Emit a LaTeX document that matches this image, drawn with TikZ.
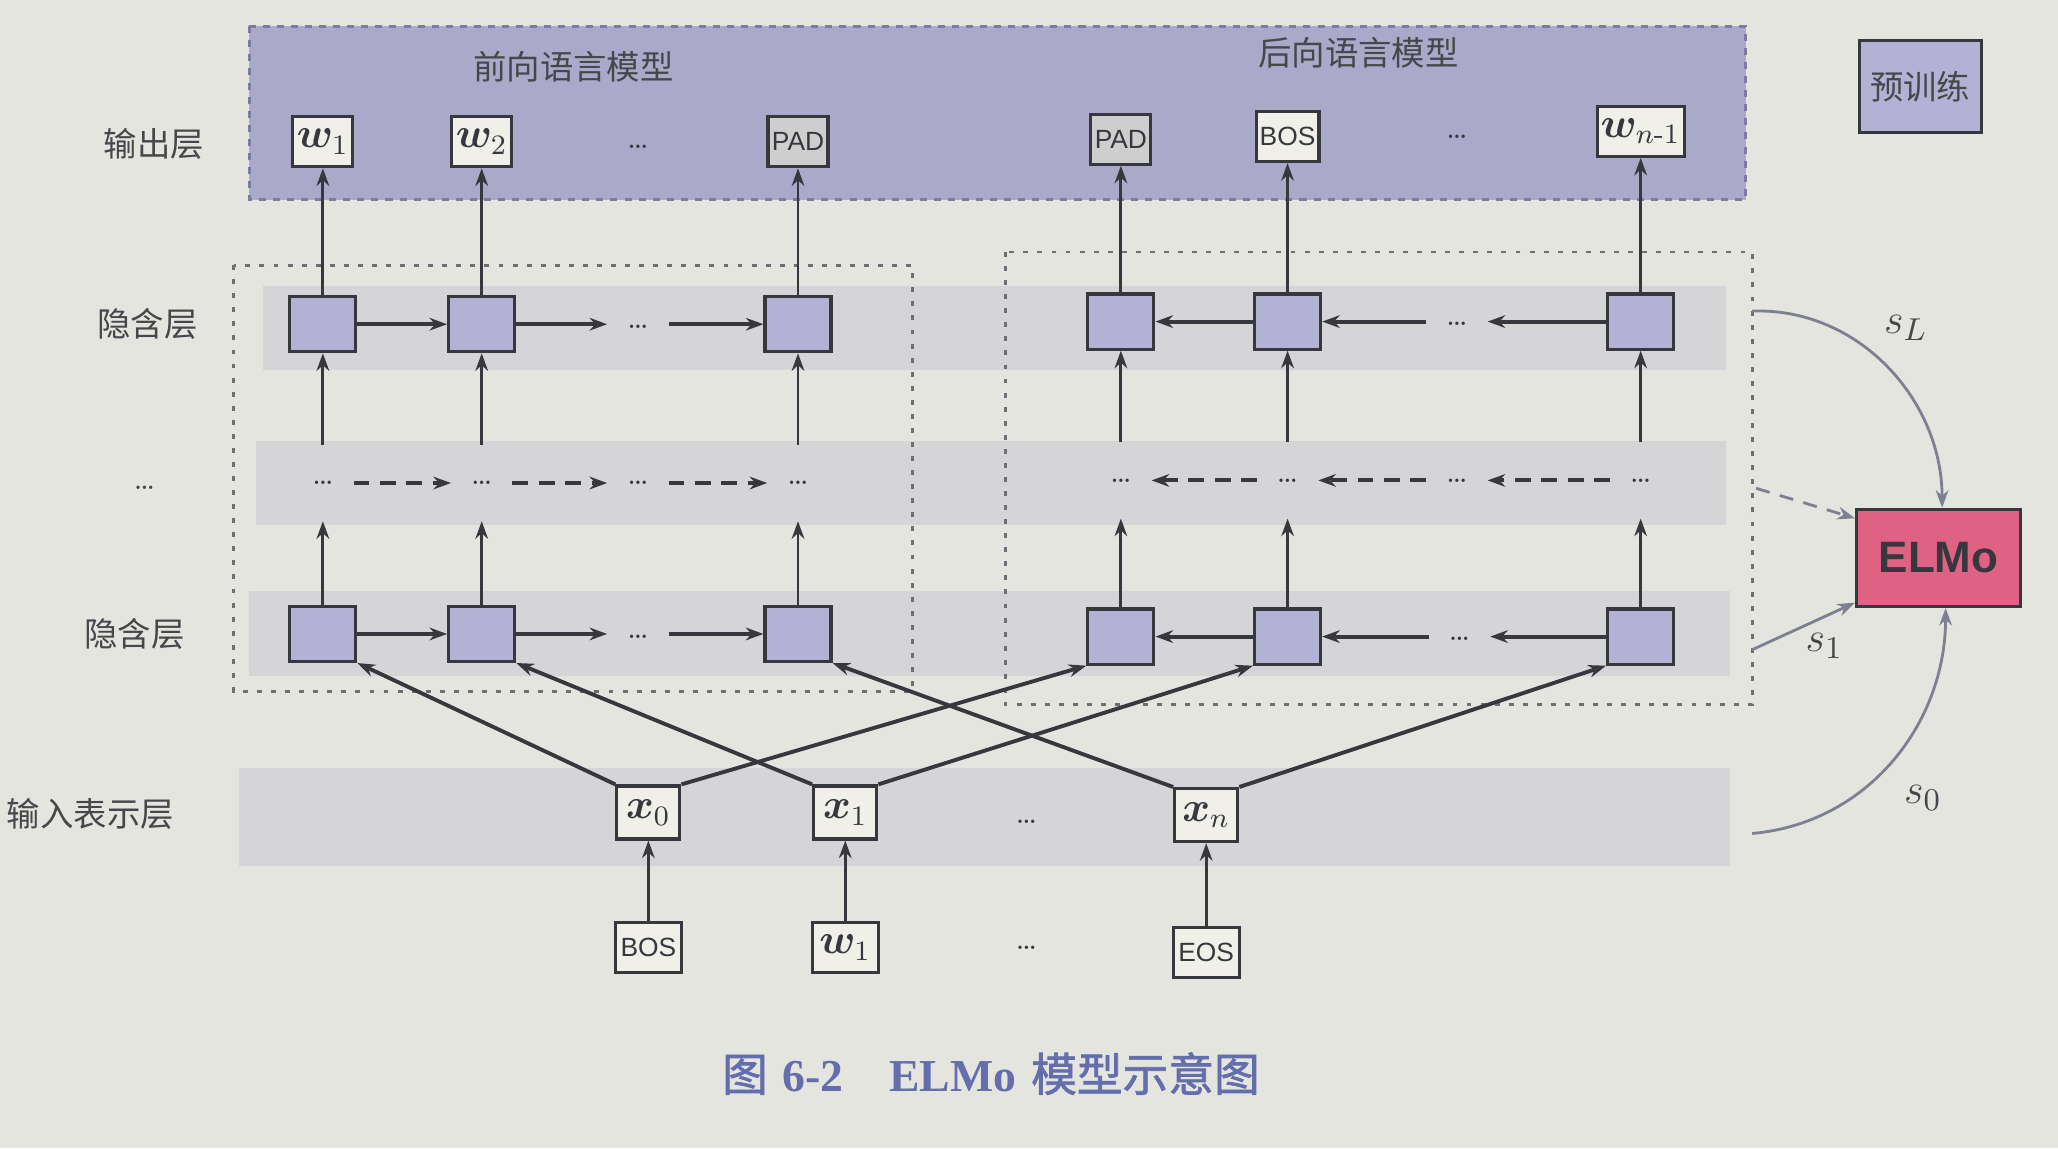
\documentclass[tikz,border=0pt]{standalone}
\usepackage{fontspec}
\usepackage{amsmath}
\usepackage{bm}
\newfontfamily\cjk{Noto Sans CJK SC}
\newfontfamily\cjkbold[FakeBold=1.5]{Noto Sans CJK SC}
\newfontfamily\sansf{Liberation Sans}
\newfontfamily\serifb{Liberation Serif}
\usetikzlibrary{arrows.meta,calc}
\definecolor{pagebg}{RGB}{229,229,223}
\definecolor{bandc}{RGB}{213,213,215}
\definecolor{purp}{RGB}{171,169,201}
\definecolor{purpedge}{RGB}{125,123,160}
\definecolor{hidc}{RGB}{180,178,212}
\definecolor{outw}{RGB}{240,240,233}
\definecolor{outg}{RGB}{206,206,206}
\definecolor{linec}{RGB}{55,55,62}
\definecolor{elmoc}{RGB}{223,98,132}
\definecolor{capc}{RGB}{100,110,172}
\definecolor{curvec}{RGB}{125,128,145}
\definecolor{dotc}{RGB}{110,110,115}
\definecolor{labc}{RGB}{70,70,75}
\tikzset{
  box/.style={draw=linec, line width=0.9pt, inner sep=1pt, text=linec},
  hid/.style={box, fill=hidc, minimum width=0.66cm, minimum height=0.55cm},
  outbox/.style={box, minimum width=0.6cm, minimum height=0.5cm, font=\sansf\fontsize{7.5}{8}\selectfont},
  inbox/.style={box, fill=outw, minimum width=0.63cm, minimum height=0.53cm, font=\fontsize{11.5}{12}\selectfont},
  botbox/.style={box, fill=outw, minimum width=0.66cm, minimum height=0.5cm, font=\sansf\fontsize{7.5}{8}\selectfont},
  dotn/.style={inner sep=0pt, minimum width=0.6cm, minimum height=0.75cm, text=linec, font=\small},
  lab/.style={font=\cjk\fontsize{9.5}{11}\selectfont, text=labc},
  arr/.style={-{Stealth[length=5pt,width=3.6pt]}, line width=0.8pt, draw=linec},
  harr/.style={arr, line width=1.1pt},
  darr/.style={harr, dash pattern=on 4.5pt off 3pt},
  curve/.style={-{Stealth[length=5pt,width=3.6pt]}, line width=0.8pt, draw=curvec},
  dotbox/.style={draw=dotc, line width=0.8pt, dash pattern=on 1.4pt off 2.6pt},
  band/.style={fill=bandc, draw=none},
  slab/.style={text=labc, font=\fontsize{13}{14}\selectfont},
  mth/.style={font=\fontsize{11.5}{12}\selectfont}
}
\newcommand{\lowdots}{\raisebox{-2.5pt}{\ldots}}
\begin{document}
\begin{tikzpicture}[x=0.013125cm,y=-0.013125cm]
\fill[pagebg] (0,0) rectangle (1568,875);
\useasboundingbox (0,0) rectangle (1568,875);

% bands
\fill[band] (200,218) rectangle (1315,282);
\fill[band] (195,336) rectangle (1315,400);
\fill[band] (190,450) rectangle (1318,515);
\fill[band] (182,585) rectangle (1318,660);

% purple output region
\filldraw[fill=purp, draw=purpedge, line width=0.8pt, dash pattern=on 2pt off 2pt] (190,20) rectangle (1330,152);
\node[lab] (tf) at (437,51) {前向语言模型};
\node[lab] (tb) at (1035,40) {后向语言模型};

% dotted boxes
\draw[dotbox] (178,202) rectangle (695,527);
\draw[dotbox] (766,192) rectangle (1335,537);

% left labels
\node[lab, anchor=east] (l1) at (165,110) {输出层};
\node[lab, anchor=east] (l2) at (160,247) {隐含层};
\node[text=labc, font=\small] (l3) at (110,372) {\ldots};
\node[lab, anchor=east] (l4) at (150,483) {隐含层};
\node[lab, anchor=east] (l5) at (142,620) {输入表示层};

% output row
\node[outbox, fill=outw, mth] (o1) at (246,108) {$\bm{w}_1$};
\node[outbox, fill=outw, mth] (o2) at (367,108) {$\bm{w}_2$};
\node[dotn] (od1) at (486,112) {\ldots};
\node[outbox, fill=outg] (o3) at (608,108) {PAD};
\node[outbox, fill=outg] (o4) at (854,106) {PAD};
\node[outbox, fill=outw] (o5) at (981,104) {BOS};
\node[dotn] (od2) at (1110,104) {\ldots};
\node[outbox, fill=outw, mth, minimum width=0.76cm] (o6) at (1250,100) {$\bm{w}_{n\text{-}1}$};

% hidden top row
\node[hid] (f1) at (246,247) {};
\node[hid] (f2) at (367,247) {};
\node[dotn] (fd) at (486,247) {\lowdots};
\node[hid] (f3) at (608,247) {};
\node[hid] (b1) at (854,245) {};
\node[hid] (b2) at (981,245) {};
\node[dotn] (bd) at (1110,245) {\lowdots};
\node[hid] (b3) at (1250,245) {};

% dots row
\node[dotn] (d1) at (246,368) {\ldots};
\node[dotn] (d2) at (367,368) {\ldots};
\node[dotn] (d3) at (486,368) {\ldots};
\node[dotn] (d4) at (608,368) {\ldots};
\node[dotn] (d5) at (854,366) {\ldots};
\node[dotn] (d6) at (981,366) {\ldots};
\node[dotn] (d7) at (1110,366) {\ldots};
\node[dotn] (d8) at (1250,366) {\ldots};

% hidden bottom row
\node[hid] (g1) at (246,483) {};
\node[hid] (g2) at (367,483) {};
\node[dotn] (gd) at (486,483) {\lowdots};
\node[hid] (g3) at (608,483) {};
\node[hid] (c1) at (854,485) {};
\node[hid] (c2) at (981,485) {};
\node[dotn] (cd) at (1112,485) {\lowdots};
\node[hid] (c3) at (1250,485) {};

% input row
\node[inbox] (x0) at (494,619) {$\bm{x}_0$};
\node[inbox] (x1) at (644,619) {$\bm{x}_1$};
\node[dotn] (xd) at (782,626) {\ldots};
\node[inbox] (xn) at (919,621) {$\bm{x}_n$};

% bottom words
\node[botbox] (t0) at (494,722) {BOS};
\node[botbox, mth] (t1) at (644,722) {$\bm{w}_1$};
\node[dotn] (td) at (782,722) {\ldots};
\node[botbox] (tn) at (919,726) {EOS};

% right side
\node[box, fill=hidc, minimum width=1.22cm, minimum height=0.92cm, font=\cjk\fontsize{9.5}{11}\selectfont, text=labc] (pre) at (1463,66) {预训练};
\node[box, fill=elmoc, minimum width=1.64cm, minimum height=0.97cm, font=\sansf\bfseries\fontsize{12.5}{14}\selectfont, text=linec] (elmo) at (1477,425) {ELMo};

% vertical arrows
\foreach \a/\b in {f1/o1,f2/o2,f3/o3,b1/o4,b2/o5,b3/o6,
                   d1/f1,d2/f2,d4/f3,d5/b1,d6/b2,d8/b3,
                   g1/d1,g2/d2,g3/d4,c1/d5,c2/d6,c3/d8,
                   t0/x0,t1/x1,tn/xn}
  \draw[arr] (\a) -- (\b);

% horizontal arrows
\draw[harr] (f1) -- (f2);
\draw[harr] (f2) -- (fd);
\draw[harr] (fd) -- (f3);
\draw[harr] (b2) -- (b1);
\draw[harr] (bd) -- (b2);
\draw[harr] (b3) -- (bd);
\draw[darr] (d1) -- (d2);
\draw[darr] (d2) -- (d3);
\draw[darr] (d3) -- (d4);
\draw[darr] (d6) -- (d5);
\draw[darr] (d7) -- (d6);
\draw[darr] (d8) -- (d7);
\draw[harr] (g1) -- (g2);
\draw[harr] (g2) -- (gd);
\draw[harr] (gd) -- (g3);
\draw[harr] (c2) -- (c1);
\draw[harr] (cd) -- (c2);
\draw[harr] (c3) -- (cd);

% crossing arrows
\draw[harr] (x0.north west) -- (g1.south east);
\draw[harr] (x0.north east) -- (c1.south west);
\draw[harr] (x1.north west) -- (g2.south east);
\draw[harr] (x1.north east) -- (c2.south west);
\draw[harr] (xn.north west) -- (g3.south east);
\draw[harr] (xn.north east) -- (c3.south west);

% curves to ELMo
\coordinate (cL) at (1335,237);
\coordinate (cD) at (1338,372);
\coordinate (c1s) at (1335,495);
\coordinate (c0) at (1335,635);
\draw[curve] (cL) to[out=2,in=90] ([xshift=1pt]elmo.north);
\draw[curve, dash pattern=on 4pt off 3pt] (cD) -- ([yshift=-3pt]elmo.north west);
\draw[curve] (c1s) -- ([yshift=1.5pt]elmo.south west);
\draw[curve] (c0) to[out=5,in=-90] ([xshift=2pt]elmo.south);
\node[slab] (sL) at (1452,250) {$s_L$};
\node[slab] (s1) at (1390,492) {$s_1$};
\node[slab] (s0) at (1465,608) {$s_0$};

% caption
\node[text=capc, font=\fontsize{13}{15}\selectfont] (cap) at (755,818)
  {{\cjkbold 图} {\serifb\bfseries 6-2}\quad{\serifb\bfseries ELMo} {\cjkbold 模型示意图}};
\end{tikzpicture}
\end{document}
